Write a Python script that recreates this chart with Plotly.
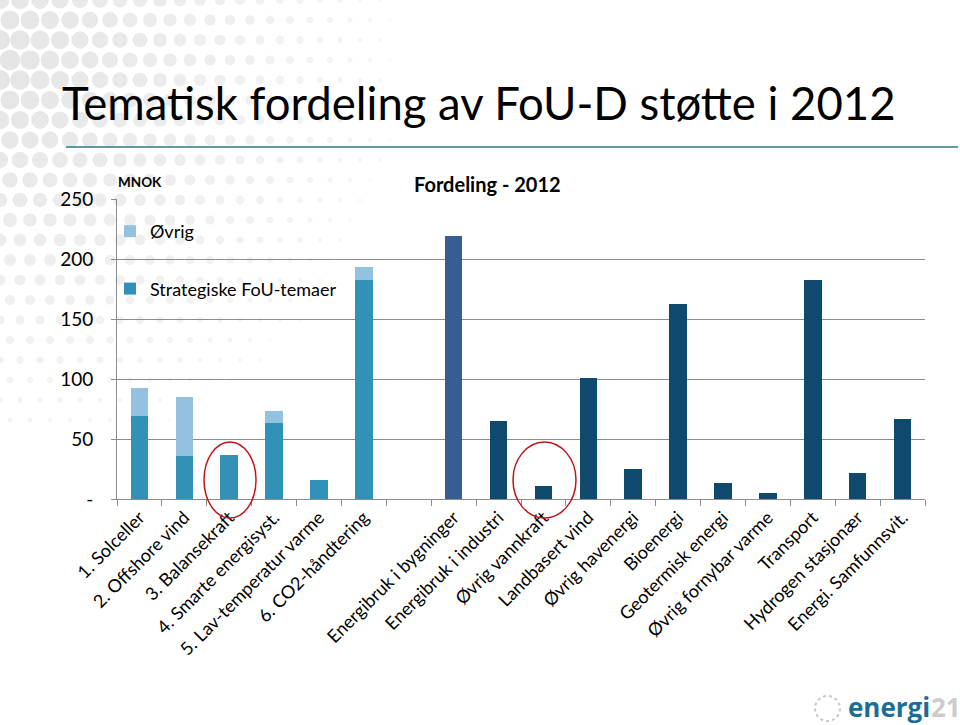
import plotly.graph_objects as go
import math

# ---------------- data ----------------
categories = [
    "1. Solceller", "2. Offshore vind", "3. Balansekraft", "4. Smarte energisyst.",
    "5. Lav-temperatur varme", "6. CO2-håndtering", " ",
    "Energibruk i bygninger", "Energibruk i industri", "Øvrig vannkraft",
    "Landbasert vind", "Øvrig havenergi", "Bioenergi", "Geotermisk energi",
    "Øvrig fornybar varme", "Transport", "Hydrogen stasjonær", "Energi. Samfunnsvit.",
]
strategic_categories = categories[:6]
strategiske = [69, 36, 37, 63.5, 16, 182.5]
ovrig = [23.5, 49, 0, 9.5, 0, 10.5]
other_categories = categories[7:]
andre = [219, 65, 11, 101, 25, 162.5, 13, 5, 182.5, 22, 67]
other_colors = ["#375E93"] + ["#0F4A6E"] * 10
y_ticks = [0, 50, 100, 150, 200, 250]
y_ticktext = ["-", "50", "100", "150", "200", "250"]

FONT = "Lato"

# plot area in pixels
L, R, T, B = 117, 925, 199, 499
W, H = R - L, B - T
def px(x):
    return (x - L) / W
def py(y):
    return (B - y) / H

fig = go.Figure()
fig.add_trace(go.Bar(
    x=strategic_categories, y=strategiske, name="Strategiske FoU-temaer",
    marker=dict(color="#3291B6", line=dict(width=0)), legendgroup="a", legendrank=2,
))
fig.add_trace(go.Bar(
    x=strategic_categories, y=ovrig, name="Øvrig",
    marker=dict(color="#93C1DF", line=dict(width=0)), legendgroup="b", legendrank=1,
))
fig.add_trace(go.Bar(
    x=other_categories, y=andre, name="Andre",
    marker=dict(color=other_colors, line=dict(width=0)), showlegend=False,
))

shapes = []
# decorative background dots (top-left)
step = 20
for i in range(0, 26):
    for j in range(0, 22):
        cx = i * step + (10 if j % 2 else 0)
        cy = j * step
        d = math.hypot(cx, cy - 60)
        r = 10.5 * (1 - d / 470)
        if r < 1.5:
            continue
        shade = int(229 + 22 * (d / 470))
        col = f"rgb({shade},{shade},{shade})"
        shapes.append(dict(type="circle", xref="paper", yref="paper",
                           x0=px(cx - r), x1=px(cx + r), y0=py(cy + r), y1=py(cy - r),
                           fillcolor=col, line=dict(width=0), layer="below"))

# title underline
shapes.append(dict(type="line", xref="paper", yref="paper",
                   x0=px(66), x1=px(958), y0=py(147), y1=py(147),
                   line=dict(color="#2E7890", width=1.5)))
# red ellipses
shapes.append(dict(type="circle", xref="paper", yref="paper",
                   x0=px(204), x1=px(256), y0=py(518), y1=py(442),
                   line=dict(color="#C0161B", width=1.5)))
shapes.append(dict(type="circle", xref="paper", yref="paper",
                   x0=px(513), x1=px(576), y0=py(518), y1=py(442),
                   line=dict(color="#C0161B", width=1.5)))
# logo globe
shapes.append(dict(type="circle", xref="paper", yref="paper",
                   x0=px(815), x1=px(840), y0=py(721), y1=py(696),
                   line=dict(color="#C8C8C8", width=2, dash="dot")))

annotations = [
    dict(text="Tematisk fordeling av FoU-D støtte i 2012", xref="paper", yref="paper",
         x=px(60), y=py(102), xanchor="left", yanchor="middle", showarrow=False,
         font=dict(family=FONT, size=45.5, color="#000000")),
    dict(text="<b>Fordeling - 2012</b>", xref="paper", yref="paper",
         x=px(487), y=py(184), xanchor="center", yanchor="middle", showarrow=False,
         font=dict(family=FONT, size=20, color="#000000")),
    dict(text="<b>MNOK</b>", xref="paper", yref="paper",
         x=px(116), y=py(182), xanchor="left", yanchor="middle", showarrow=False,
         font=dict(family=FONT, size=13.5, color="#000000")),
    dict(text="<b>energi</b>", xref="paper", yref="paper",
         x=px(846), y=py(707), xanchor="left", yanchor="middle", showarrow=False,
         font=dict(family="Open Sans", size=26, color="#1C6D96")),
    dict(text="<b>21</b>", xref="paper", yref="paper",
         x=px(929), y=py(707), xanchor="left", yanchor="middle", showarrow=False,
         font=dict(family="Open Sans", size=26, color="#CCCCCC")),
]

fig.update_layout(
    width=960, height=725,
    margin=dict(l=L, r=960 - R, t=T, b=725 - B, autoexpand=False),
    paper_bgcolor="white", plot_bgcolor="rgba(0,0,0,0)",
    barmode="stack", bargap=0.61,
    font=dict(family=FONT, color="#000000"),
    showlegend=True,
    legend=dict(x=px(110), y=py(213), xanchor="left", yanchor="top",
                traceorder="grouped", tracegroupgap=31,
                bgcolor="rgba(0,0,0,0)", font=dict(family=FONT, size=18)),
    shapes=shapes, annotations=annotations,
    xaxis=dict(type="category", categoryorder="array", categoryarray=categories,
               range=[-0.5, len(categories) - 0.5], tickangle=-45,
               tickson="boundaries", ticks="outside", ticklen=6, tickcolor="#8C8C8C",
               showline=True, linecolor="#8C8C8C", linewidth=1, showgrid=False,
               tickfont=dict(family=FONT, size=18, color="#000000")),
    yaxis=dict(range=[0, 250], tickvals=y_ticks, ticktext=y_ticktext,
               ticks="outside", ticklen=5, tickcolor="#8C8C8C",
               showline=True, linecolor="#8C8C8C", linewidth=1,
               showgrid=True, gridcolor="#8C8C8C", gridwidth=1, zeroline=False,
               ticklabelstandoff=14,
               tickfont=dict(family=FONT, size=19, color="#000000")),
)

fig.write_html("out.html")
